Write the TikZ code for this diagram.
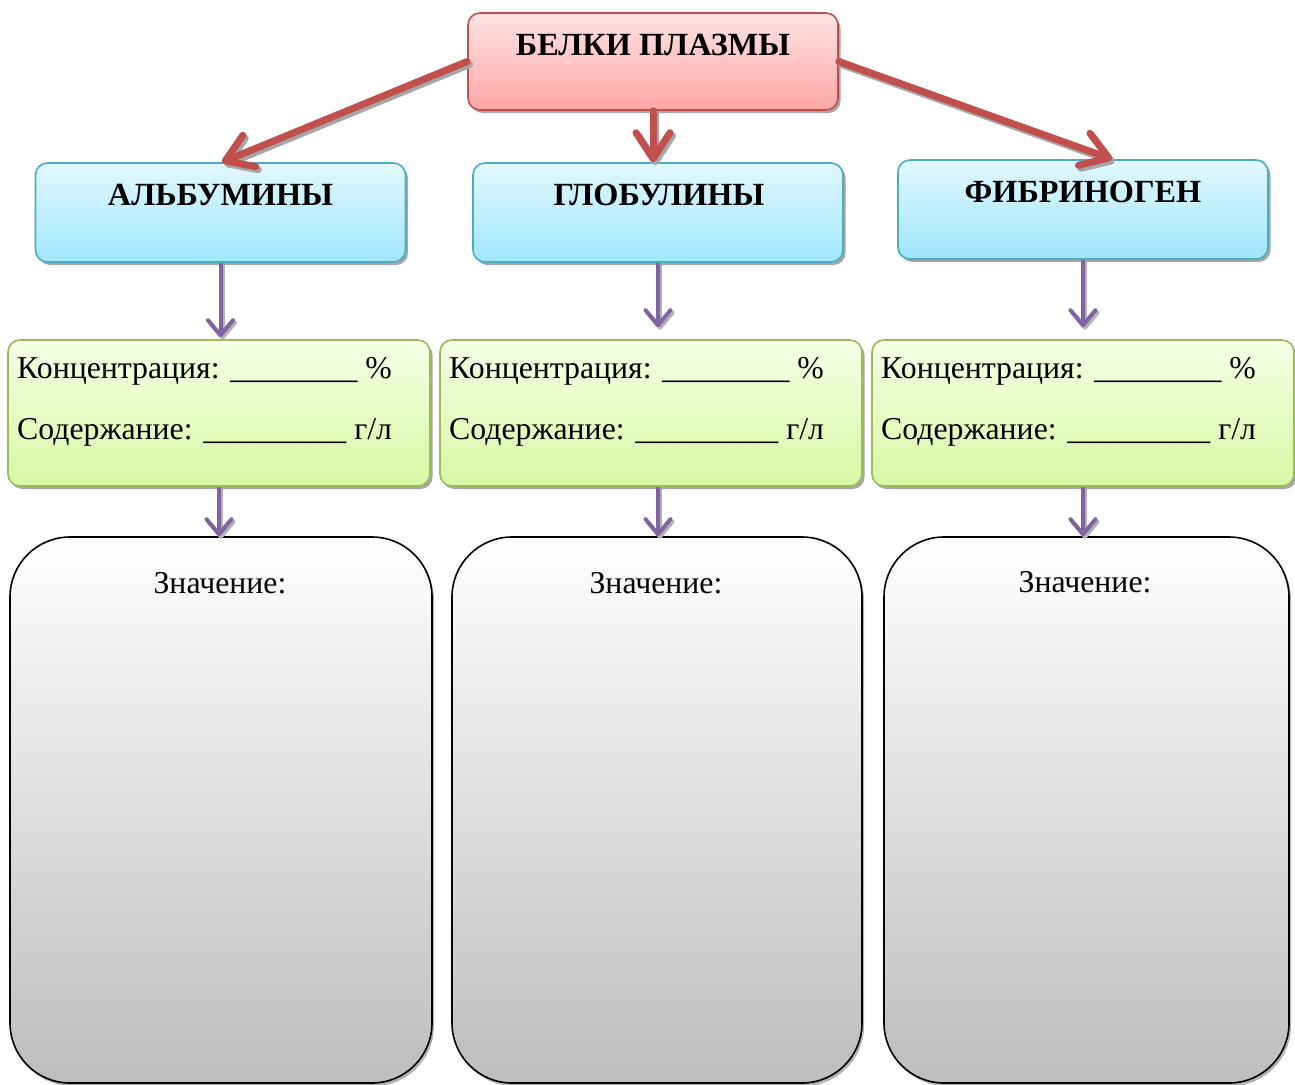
\documentclass[tikz,border=0pt]{standalone}
\usepackage{fontspec}
\setmainfont{Liberation Serif}
\usetikzlibrary{arrows.meta,shadows}

\definecolor{redline}{HTML}{C0504D}
\definecolor{redtop}{HTML}{FFE3E3}
\definecolor{redbot}{HTML}{FFA6A6}
\definecolor{blueline}{HTML}{4BACC6}
\definecolor{bluetop}{HTML}{E2F8FE}
\definecolor{bluebot}{HTML}{A0E6FB}
\definecolor{greenline}{HTML}{9BBB59}
\definecolor{greentop}{HTML}{F6FFE6}
\definecolor{greenbot}{HTML}{D8F8A4}
\definecolor{purpleline}{HTML}{8064A2}
\definecolor{graybot}{HTML}{BDBDBD}

\tikzset{
  boxbase/.style={rectangle, rounded corners=12pt, line width=1.6pt,
    drop shadow={shadow xshift=2.5pt, shadow yshift=-3pt, fill=black, opacity=0.35}},
  topbox/.style={boxbase, draw=redline, top color=redtop, bottom color=redbot,
    minimum width=370pt, minimum height=97pt},
  kindbox/.style={boxbase, draw=blueline, top color=bluetop, bottom color=bluebot,
    minimum width=370pt, minimum height=99pt},
  databox/.style={boxbase, draw=greenline, top color=greentop, bottom color=greenbot,
    minimum width=422pt, minimum height=146pt},
  rolebox/.style={rectangle, rounded corners=60pt, line width=1.6pt, draw=black,
    top color=white, bottom color=graybot, minimum height=546pt,
    drop shadow={shadow xshift=2pt, shadow yshift=-3pt, fill=black, opacity=0.3}},
  hdr/.style={font=\bfseries\fontsize{32.3}{38}\selectfont, inner sep=0pt, anchor=base},
  body/.style={font=\fontsize{31.8}{38}\selectfont, inner sep=0pt, anchor=base west},
  roletext/.style={font=\fontsize{31.8}{38}\selectfont, inner sep=0pt, anchor=base},
  redarrow/.style={draw=redline, line width=7pt, line cap=round,
    -{Straight Barb[length=26pt, width=34pt, line width=7pt, round]}},
  redshadow/.style={draw=black!35, line width=7pt, line cap=round,
    -{Straight Barb[length=26pt, width=34pt, line width=7pt, round]}},
  purplearrow/.style={draw=purpleline, line width=4pt,
    -{Straight Barb[length=15pt, width=25pt, line width=4pt, round]}},
  purpleshadow/.style={draw=black!30, line width=4pt,
    -{Straight Barb[length=15pt, width=25pt, line width=4pt, round]}},
}

\begin{document}
\begin{tikzpicture}[x=1pt, y=-1pt]
\useasboundingbox (0,0) rectangle (1295,1084);

% main box and the three protein groups
\node[topbox]  (plasma) at (653,61.5) {};
\node[kindbox] (alb)  at (220.5,212.5) {};
\node[kindbox] (glob) at (658,212.5) {};
\node[kindbox] (fib)  at (1083,209.5) {};

% concentration / content boxes
\node[databox] (albD)  at (219,413) {};
\node[databox] (globD) at (651,413) {};
\node[databox] (fibD)  at (1083,413) {};

% boxes for the role of each group
\node[rolebox, minimum width=422pt] (albR)  at (221,810) {};
\node[rolebox, minimum width=410pt] (globR) at (657,810) {};
\node[rolebox, minimum width=405pt] (fibR)  at (1086.5,810) {};

% titles
\node[hdr] (plasmaT) at (653,55) {БЕЛКИ ПЛАЗМЫ};
\node[hdr] (albT)  at (220.5,205) {АЛЬБУМИНЫ};
\node[hdr] (globT) at (659,205) {ГЛОБУЛИНЫ};
\node[hdr] (fibT)  at (1083,202) {ФИБРИНОГЕН};

% fill-in lines
\node[body] (albC)  at (17,378)  {Концентрация: \_\_\_\_\_\_\_\_ \%};
\node[body] (albS)  at (17,439)  {Содержание: \_\_\_\_\_\_\_\_\_ г/л};
\node[body] (globC) at (449,378) {Концентрация: \_\_\_\_\_\_\_\_ \%};
\node[body] (globS) at (449,439) {Содержание: \_\_\_\_\_\_\_\_\_ г/л};
\node[body] (fibC)  at (881,378) {Концентрация: \_\_\_\_\_\_\_\_ \%};
\node[body] (fibS)  at (881,439) {Содержание: \_\_\_\_\_\_\_\_\_ г/л};

\node[roletext] (albV)  at (220,593) {Значение:};
\node[roletext] (globV) at (656,593) {Значение:};
\node[roletext] (fibV)  at (1085,592) {Значение:};

% red connectors with their shadows
\coordinate (albIn)  at ([xshift=1.5pt]alb.north);
\coordinate (globIn) at (plasma.south |- glob.north);
\coordinate (fibIn)  at ([xshift=29pt]fib.north);
\draw[redshadow] ([shift={(2.5pt,-3pt)}]plasma.west) -- ([shift={(2.5pt,-3pt)}]albIn);
\draw[redshadow] ([shift={(2.5pt,-3pt)}]plasma.south) -- ([shift={(2.5pt,-3pt)}]globIn);
\draw[redshadow] ([shift={(2.5pt,-3pt)}]plasma.east) -- ([shift={(2.5pt,-3pt)}]fibIn);
\draw[redarrow] (plasma.west) -- (albIn);
\draw[redarrow] (plasma.south) -- (globIn);
\draw[redarrow] (plasma.east) -- (fibIn);

% purple connectors: start points on the upper boxes, ends above the lower ones
\coordinate (albOut)  at (alb.south);
\coordinate (globOut) at (glob.south);
\coordinate (fibOut)  at (fib.south);
\coordinate (albDOut)  at (albD.south);
\coordinate (globDOut) at ([xshift=7pt]globD.south);
\coordinate (fibDOut)  at (fibD.south);
\coordinate (albDIn)  at ([yshift=2pt]albD.north);
\coordinate (globDIn) at ([yshift=12pt]globD.north);
\coordinate (fibDIn)  at ([yshift=12pt]fibD.north);
\foreach \a/\b/\c in {albOut/albDIn/albD, globOut/globDIn/globD, fibOut/fibDIn/fibD,
                      albDOut/albR/albR, globDOut/globR/globR, fibDOut/fibR/fibR}{
  \draw[purpleshadow] ([shift={(2pt,-2.5pt)}]\a) -- ([shift={(2pt,-2.5pt)}]\a |- \b.north);
  \draw[purplearrow] (\a) -- (\a |- \b.north);
}
\end{tikzpicture}
\end{document}
